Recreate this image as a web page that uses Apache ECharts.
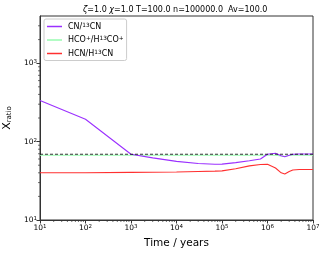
<!DOCTYPE html>
<html><head><meta charset="utf-8">
<script src="https://cdn.jsdelivr.net/npm/echarts@6/dist/echarts.min.js"></script>
<style>html,body{margin:0;padding:0;background:#fff}#c{width:326px;height:254px}</style>
</head><body><div id="c"></div>
<script>
var times = [10, 100, 1000, 3000, 1e4, 3e4, 7e4, 1e5, 2e5, 4e5, 7e5, 1e6, 1.5e6, 2e6, 2.4e6, 3e6, 3.6e6, 5e6, 1e7];
var cnRatio = [334, 193, 69, 62, 56, 52.5, 51.4, 51.6, 54, 57, 60, 69, 71, 66, 64, 67, 69, 69.5, 69.5];
var hcoRatio = [67, 67, 67, 67, 67, 67, 67, 67, 67, 67, 67, 67, 67, 65.5, 65, 66.5, 67, 67, 67];
var hcnRatio = [40, 40, 40.5, 40.7, 41, 41.5, 42, 42.3, 45, 49, 51, 51.4, 46, 40, 38.7, 41.5, 43.5, 44, 44];
var refLineX = [10, 1e7];
var refLineY = [69, 69];
var xDecades = [10, 100, 1000, 1e4, 1e5, 1e6];
var yDecades = [10, 100, 1000];
var minorMults = [2, 3, 4, 5, 6, 7, 8, 9];
var xMin = 10, xMax = 1e7, yMin = 10, yMax = 4000;
var seriesNames = ['CN/{sup|13}CN', 'HCO{sup|+}/H{sup|13}CO{sup|+}', 'HCN/H{sup|13}CN'];

function pairs(xs, ys){ return xs.map(function(x,i){return [x, ys[i]];}); }
function powLabel(v){ var e = Math.round(Math.log10(v)); return '10{sup|' + e + '}'; }
var supRich = { sup: { fontSize: 5.5, verticalAlign: 'top', padding: [0,0,3,0], fontFamily: 'DejaVu Sans', color: '#000' } };
var legRich = { sup: { fontSize: 5.8, verticalAlign: 'top', padding: [0,0,3,0], fontFamily: 'DejaVu Sans', color: '#000' } };

var minorData = [];
xDecades.forEach(function(d){ minorMults.forEach(function(m){ var v = d*m; if (v < xMax) minorData.push([v, yMin, 0]); }); });
yDecades.forEach(function(d){ minorMults.forEach(function(m){ var v = d*m; if (v < yMax) minorData.push([xMin, v, 1]); }); });

var chart = echarts.init(document.getElementById('c'));
chart.setOption({
  animation: false,
  title: {
    text: '{i|ζ}=1.0 {i|χ}=1.0 T=100.0 n=100000.0  Av=100.0',
    left: 78, top: 1,
    textStyle: { fontFamily: 'DejaVu Sans', fontSize: 8, fontWeight: 'normal', color: '#000',
      rich: { i: { fontStyle: 'italic', fontFamily: 'DejaVu Sans', fontSize: 8 } } }
  },
  grid: { left: 40, right: 13, top: 16, bottom: 34, show: true, borderColor: '#333', borderWidth: 1,
    containLabel: false, outerBoundsMode: 'none' },
  legend: {
    left: 44, top: 19, orient: 'vertical', itemWidth: 15, itemHeight: 1.5, itemGap: 5,
    padding: [3, 3, 3, 3],
    borderColor: '#ccc', borderWidth: 1, borderRadius: 2, backgroundColor: '#fff',
    data: seriesNames.map(function(n){ return { name: n, icon: 'rect' }; }),
    formatter: function(n){ return n; },
    textStyle: { fontFamily: 'DejaVu Sans', fontSize: 8, color: '#000', rich: legRich, padding: [0,0,0,1] }
  },
  xAxis: {
    type: 'log', logBase: 10, min: xMin, max: xMax,
    name: 'Time / years', nameLocation: 'middle', nameGap: 16,
    nameTextStyle: { fontFamily: 'DejaVu Sans', fontSize: 10.5, color: '#000' },
    axisLine: { show: true, lineStyle: { color: '#333' } },
    axisTick: { show: true, inside: false, length: 3.5, lineStyle: { color: '#333' } },
    splitLine: { show: false },
    axisLabel: { formatter: powLabel, fontFamily: 'DejaVu Sans', fontSize: 7.5, color: '#000', margin: 4, rich: supRich }
  },
  yAxis: {
    type: 'log', logBase: 10, min: yMin, max: yMax,
    name: 'X{sub|ratio}', nameLocation: 'middle', nameGap: 21, nameRotate: 90,
    nameTextStyle: { fontFamily: 'DejaVu Sans', fontSize: 11, color: '#000',
      rich: { sub: { fontSize: 7, verticalAlign: 'bottom', padding: [4,0,0,0], fontFamily: 'DejaVu Sans' } } },
    axisLine: { show: true, lineStyle: { color: '#333' } },
    axisTick: { show: true, length: 3.5, lineStyle: { color: '#333' } },
    splitLine: { show: false },
    axisLabel: {
      formatter: function(v){ return Math.abs(Math.log10(v) % 1) < 1e-6 ? powLabel(v) : ''; },
      fontFamily: 'DejaVu Sans', fontSize: 7.5, color: '#000', margin: 3, rich: supRich, showMaxLabel: false }
  },
  series: [
    { name: seriesNames[0], type: 'line', data: pairs(times, cnRatio), showSymbol: false, symbol: 'none',
      lineStyle: { color: '#9b30ff', width: 1.1 }, itemStyle: { color: '#9b30ff' }, z: 3 },
    { name: seriesNames[1], type: 'line', data: pairs(times, hcoRatio), showSymbol: false, symbol: 'none',
      lineStyle: { color: '#98fbb0', width: 1.1 }, itemStyle: { color: '#98fbb0' }, z: 2 },
    { name: seriesNames[2], type: 'line', data: pairs(times, hcnRatio), showSymbol: false, symbol: 'none',
      lineStyle: { color: '#ff3030', width: 1.1 }, itemStyle: { color: '#ff3030' }, z: 3 },
    { name: 'ref', type: 'line', data: pairs(refLineX, refLineY), showSymbol: false, symbol: 'none',
      lineStyle: { color: '#000', width: 0.8, type: [3, 2] }, z: 4 },
    { name: 'minorTicks', type: 'custom', data: minorData, clip: false, silent: true, z: 5,
      renderItem: function(params, api){
        var p = api.coord([api.value(0), api.value(1)]);
        var isY = api.value(2) === 1;
        var shape = isY ? { x1: p[0] - 2, y1: p[1], x2: p[0], y2: p[1] } : { x1: p[0], y1: p[1], x2: p[0], y2: p[1] + 2 };
        return { type: 'line', shape: shape, style: { stroke: '#333', lineWidth: 0.7 } };
      }
    }
  ]
});
</script></body></html>
